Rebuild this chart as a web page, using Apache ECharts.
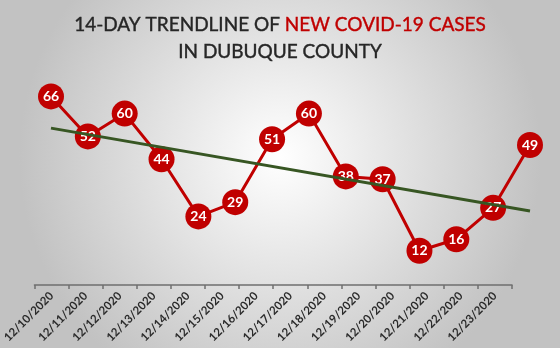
<!DOCTYPE html>
<html><head><meta charset="utf-8">
<script src="https://cdn.jsdelivr.net/npm/echarts@6/dist/echarts.min.js"></script>
<style>html,body{margin:0;padding:0;}#c{width:560px;height:348px;}</style>
</head><body><div id="c"></div>
<script>
const categories = ["12/10/2020","12/11/2020","12/12/2020","12/13/2020","12/14/2020","12/15/2020","12/16/2020","12/17/2020","12/18/2020","12/19/2020","12/20/2020","12/21/2020","12/22/2020","12/23/2020"];
const cases = [66,52,60,44,24,29,51,60,38,37,12,16,27,49];
const trendStart = 54.9;
const trendEnd = 25.9;

const chart = echarts.init(document.getElementById('c'));
chart.setOption({
  backgroundColor: {
    type: 'radial', x: 0.5, y: 0.45, r: 0.75,
    colorStops: [{offset: 0, color: '#ffffff'}, {offset: 1, color: '#c2c2c2'}]
  },
  animation: false,
  title: {
    text: '{a|14-DAY TRENDLINE OF }{b|NEW COVID-19 CASES}\n{a|IN DUBUQUE COUNTY}',
    left: 'center', top: 6,
    textStyle: {
      rich: {
        a: {fontFamily: 'Lato', fontSize: 19, fontWeight: 'normal', color: '#262626', lineHeight: 27, textBorderColor: '#262626', textBorderWidth: 0.4},
        b: {fontFamily: 'Lato', fontSize: 19, fontWeight: 'normal', color: '#c00000', lineHeight: 27, textBorderColor: '#c00000', textBorderWidth: 0.4}
      }
    }
  },
  grid: [
    {left: 30, right: 48, top: 85, bottom: 63},
    {left: 51, right: 30, top: 85, bottom: 63}
  ],
  xAxis: [
    {
      type: 'category', gridIndex: 0, data: categories, boundaryGap: true,
      axisLine: {lineStyle: {color: '#6f6f6f', width: 1.5}},
      axisTick: {show: true, length: 4, lineStyle: {color: '#6f6f6f', width: 1.5}},
      axisLabel: {rotate: 45, interval: 0, fontFamily: 'Lato', fontWeight: 'bold', fontSize: 11.5, color: '#2b2b2b', margin: 9}
    },
    {
      type: 'category', gridIndex: 1, data: categories, boundaryGap: false, show: false
    }
  ],
  yAxis: [
    {type: 'value', gridIndex: 0, min: 0, max: 70, show: false},
    {type: 'value', gridIndex: 1, min: 0, max: 70, show: false}
  ],
  series: [
    {
      type: 'line', xAxisIndex: 1, yAxisIndex: 1, data: cases,
      showAllSymbol: true,
      lineStyle: {color: '#c00000', width: 3},
      symbol: 'circle', symbolSize: 26,
      itemStyle: {color: '#c00000'},
      label: {show: true, position: 'inside', color: '#ffffff', fontFamily: 'Lato', fontWeight: 'bold', fontSize: 14},
      labelLayout: {hideOverlap: false},
      z: 2
    },
    {
      type: 'line', xAxisIndex: 1, yAxisIndex: 1,
      data: [[0, trendStart], [categories.length - 1, trendEnd]],
      lineStyle: {color: '#375623', width: 3},
      symbol: 'none', z: 3, silent: true
    }
  ]
});
</script></body></html>
